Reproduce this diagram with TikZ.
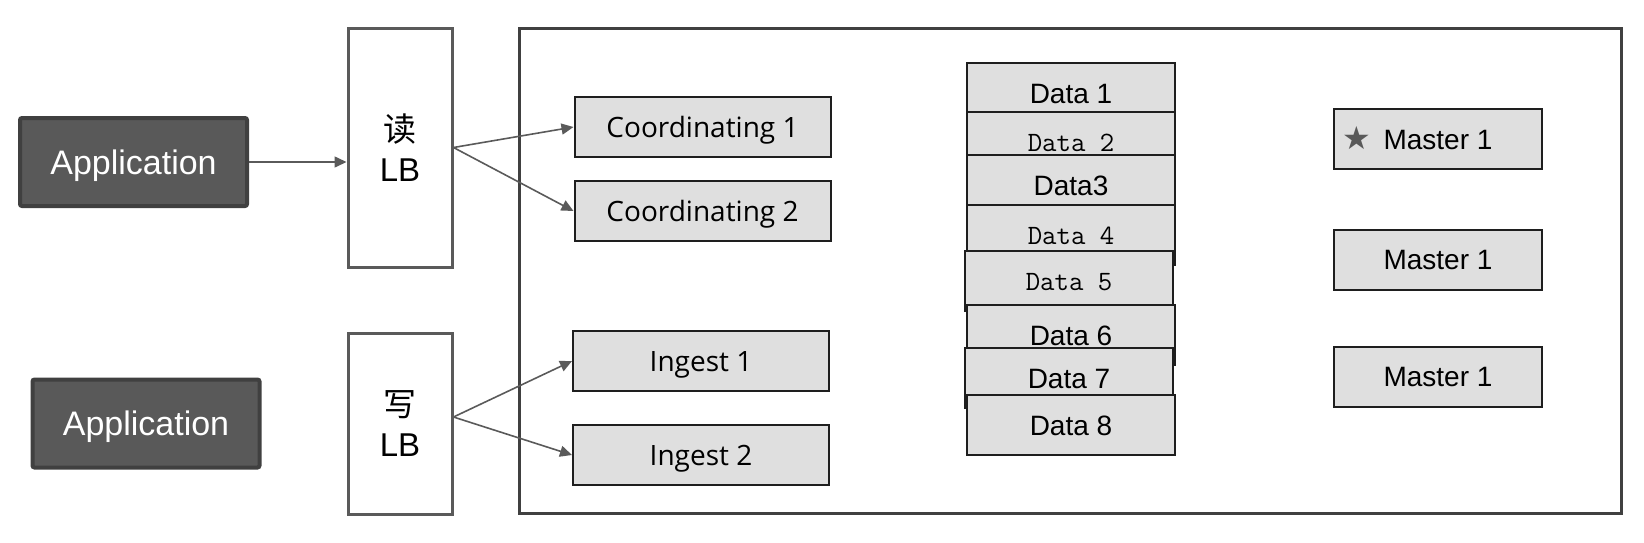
\documentclass[tikz,border=0pt]{standalone}
\usepackage{fontspec}
\setmainfont{Liberation Sans}
\newfontfamily\uifont{Open Sans}
\newfontfamily\monofont{Latin Modern Mono}
\newfontfamily\cjkfont{Noto Sans CJK SC}
\newfontfamily\symfont{DejaVu Sans}
\usetikzlibrary{arrows.meta}
\definecolor{appgray}{HTML}{595959}
\definecolor{appedge}{HTML}{404040}
\definecolor{linegray}{HTML}{5A5A5A}
\definecolor{boxfill}{HTML}{DFDFDF}
\definecolor{boxedge}{HTML}{1E1E1E}
\begin{document}
\begin{tikzpicture}[
        x=0.5pt, y=-0.5pt,
        every node/.style={inner sep=0pt, align=center},
        app/.style={draw=appedge, line width=2pt, fill=appgray, rounded corners=1pt, text=white,
            font=\fontsize{17}{20}\selectfont, text height=12.2pt, text depth=0pt,
            minimum width=113.5pt, minimum height=44pt}, % caixas escuras
        lb/.style={draw=linegray, line width=1.5pt, fill=white, minimum width=52pt,
            font=\fontsize{16.5}{20}\selectfont}, % balanceadores
        role/.style={draw=boxedge, line width=1pt, fill=boxfill, minimum height=30pt,
            text height=10pt, text depth=0pt}, % caixas cinzas
        coordbox/.style={role, minimum width=128pt, font=\uifont\fontsize{14}{16}\selectfont},
        databox/.style={role, minimum width=104pt, font=\fontsize{14}{16}\selectfont},
        datamono/.style={databox, text height=9pt, font=\monofont\fontsize{14}{16}\selectfont},
        masterbox/.style={role, minimum width=104pt, font=\fontsize{14}{16}\selectfont},
        link/.style={draw=linegray, line width=0.8pt, -{Triangle[length=6pt,width=5.5pt]}}
    ]
    \useasboundingbox (0,0) rectangle (1644,542);

    % cluster
    \node[draw=appedge, line width=1.5pt, minimum width=551pt, minimum height=242.5pt] (cluster) at (1070,270.5) {};

    % aplicacoes e LBs
    \node[app] (app1) at (133.5,162) {Application};
    \node[app] (app2) at (146,423.5) {Application};
    \node[lb, minimum height=119.5pt] (lbRead) at (400,147.5) {{\cjkfont 读}\\LB};
    \node[lb, minimum height=90.5pt] (lbWrite) at (400,423.5) {{\cjkfont 写}\\LB};

    % coordinating e ingest
    \node[coordbox] (coord1) at (702.5,127) {Coordinating 1};
    \node[coordbox] (coord2) at (702.5,211) {Coordinating 2};
    \node[coordbox] (ingest1) at (701,361) {Ingest 1};
    \node[coordbox] (ingest2) at (701,455) {Ingest 2};

    % data nodes
    \node[databox] (data1) at (1071,93) {Data 1};
    \node[datamono] (data2) at (1071,142) {Data 2};
    \node[databox] (data3) at (1071,185) {Data3};
    \node[datamono] (data4) at (1071,235) {Data 4};
    \node[datamono] (data5) at (1069,281) {Data 5};
    \node[databox] (data6) at (1071,335) {Data 6};
    \node[databox] (data7) at (1069,378) {Data 7};
    \node[databox] (data8) at (1071,425) {Data 8};

    % masters
    \node[masterbox] (master1) at (1438,139) {Master 1};
    \node[text=appgray, font=\symfont\fontsize{16}{18}\selectfont] (star) at (1357,138) {★};
    \node[masterbox] (master2) at (1438,259.5) {Master 1};
    \node[masterbox] (master3) at (1438,376.5) {Master 1};

    % conexoes
    \draw[link] (app1.east) -- (lbRead.west |- app1.east);
    \draw[link] (lbRead.east) -- (coord1.west);
    \draw[link] (lbRead.east) -- (coord2.west);
    \coordinate (wOut) at ([yshift=3.25pt]lbWrite.east);
    \draw[link] (wOut) -- (ingest1.west);
    \draw[link] (wOut) -- (ingest2.west);
\end{tikzpicture}
\end{document}
